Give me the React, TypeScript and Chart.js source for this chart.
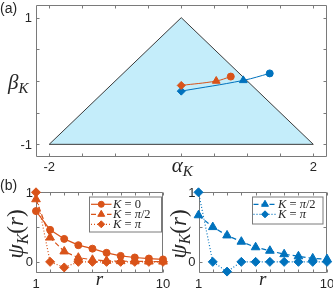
import React, { useEffect, useRef } from 'react';
import { Chart, registerables } from 'chart.js';
import { drawPoint } from 'chart.js/helpers';
Chart.register(...registerables);

// ---------- Panel (a) data ----------
const triAlpha = [-2, 0, 2, -2];
const triBeta = [-1, 1, -1, -1];
const orangeAlpha = [0, 0.53, 0.75];
const orangeBeta = [-0.07, 0.0, 0.07];
const blueAlpha = [0, 0.94, 1.34];
const blueBeta = [-0.16, 0.01, 0.12];
const pathMarkers = ['rectRot', 'triangle', 'circle'];
const aXTicks = [-2, -1.5, -1, -0.5, 0, 0.5, 1, 1.5, 2];
const aYTicks = [-1, -0.5, 0, 0.5, 1];
const aXLabelVals = [-2, 2];
const aXLabelText = ['-2', '2'];
const aYLabelVals = [-1, 1];
const aYLabelText = ['-1', '1'];

// ---------- Panel (b) data ----------
const rVals = [1, 2, 3, 4, 5, 6, 7, 8, 9, 10];
const psiK0 = [0.73, 0.46, 0.33, 0.24, 0.19, 0.13, 0.086, 0.063, 0.048, 0.035];
const psiKhalfL = [0.9, 0.35, 0.15, 0.06, 0.03, 0.015, 0.01, 0.008, 0.005, 0.004];
const psiKpiL = [1, 0, -0.08, 0, 0, 0, 0, 0, 0, 0];
const psiKhalfR = [0.67, 0.5, 0.38, 0.29, 0.21, 0.16, 0.11, 0.08, 0.05, 0.04];
const psiKpiR = [1, 0, -0.14, 0, 0, 0, 0, 0, 0, 0];
const bXTicks = [1, 2, 3, 4, 5, 6, 7, 8, 9, 10];
const bYTicks = [0, 0.5, 1];
const bXLabelVals = [1, 10];
const bXLabelText = ['1', '10'];
const bYLabelVals = [0, 1];
const bYLabelText = ['0', '1'];

const ORANGE = '#D95319';
const BLUE = '#0072BD';
const FILL = '#C4EDFA';
const TXT = '#262626';
const BOX = '#7a7a7a';
const SANS = '"Liberation Sans", Arial, sans-serif';
const SERIF = '"Liberation Serif", "Times New Roman", serif';

type Seg = { t: string; it?: boolean; sub?: boolean };

function mathText(ctx: CanvasRenderingContext2D, segs: Seg[], x: number, y: number, size: number, align: 'left' | 'center', rot = 0) {
  ctx.save();
  ctx.translate(x, y);
  if (rot) ctx.rotate(rot);
  ctx.fillStyle = TXT;
  ctx.textAlign = 'left';
  ctx.textBaseline = 'alphabetic';
  const subSize = Math.round(size * 0.7);
  const fontOf = (s: Seg) => `${s.it ? 'italic ' : ''}${s.sub ? subSize : size}px ${SERIF}`;
  const ws = segs.map((s) => { ctx.font = fontOf(s); return ctx.measureText(s.t).width; });
  const total = ws.reduce((a, b) => a + b, 0);
  let cx = align === 'center' ? -total / 2 : 0;
  segs.forEach((s, i) => {
    ctx.font = fontOf(s);
    ctx.fillText(s.t, cx, s.sub ? size * 0.2 : 0);
    cx += ws[i];
  });
  ctx.restore();
}

function plainText(ctx: CanvasRenderingContext2D, t: string, x: number, y: number, size: number, align: CanvasTextAlign, baseline: CanvasTextBaseline = 'alphabetic') {
  ctx.save();
  ctx.fillStyle = TXT;
  ctx.font = `${size}px ${SANS}`;
  ctx.textAlign = align;
  ctx.textBaseline = baseline;
  ctx.fillText(t, x, y);
  ctx.restore();
}

function drawAxesBox(chart: any, xt: number[], yt: number[], len = 3) {
  const { ctx, chartArea: a, scales } = chart;
  const L = Math.round(a.left) + 0.5, R = Math.round(a.right) - 0.5;
  const T = Math.round(a.top) + 0.5, B = Math.round(a.bottom) - 0.5;
  ctx.save();
  ctx.strokeStyle = BOX;
  ctx.lineWidth = 1;
  ctx.beginPath();
  ctx.rect(L, T, R - L, B - T);
  xt.forEach((v) => {
    const px = Math.round(scales.x.getPixelForValue(v)) + 0.5;
    ctx.moveTo(px, B); ctx.lineTo(px, B - len);
    ctx.moveTo(px, T); ctx.lineTo(px, T + len);
  });
  yt.forEach((v) => {
    const py = Math.round(scales.y.getPixelForValue(v)) + 0.5;
    ctx.moveTo(L, py); ctx.lineTo(L + len, py);
    ctx.moveTo(R, py); ctx.lineTo(R - len, py);
  });
  ctx.stroke();
  ctx.restore();
}

type LegRow = { color: string; dash: number[]; style: string; radius: number; label: Seg[] };

function drawLegend(ctx: CanvasRenderingContext2D, box: [number, number, number, number], rows: LegRow[], lx0: number, lx1: number, tx: number, y0: number, step: number) {
  ctx.save();
  ctx.fillStyle = '#ffffff';
  ctx.strokeStyle = BOX;
  ctx.lineWidth = 1;
  ctx.fillRect(box[0], box[1], box[2] - box[0], box[3] - box[1]);
  ctx.strokeRect(box[0] + 0.5, box[1] + 0.5, box[2] - box[0], box[3] - box[1]);
  rows.forEach((row, i) => {
    const y = y0 + i * step;
    ctx.strokeStyle = row.color;
    ctx.lineWidth = 1.2;
    ctx.setLineDash(row.dash);
    ctx.beginPath();
    ctx.moveTo(lx0, y); ctx.lineTo(lx1, y);
    ctx.stroke();
    ctx.setLineDash([]);
    ctx.fillStyle = row.color;
    ctx.strokeStyle = row.color;
    ctx.lineWidth = 1;
    drawPoint(ctx, { pointStyle: row.style as any, radius: row.radius, rotation: 0, borderWidth: 1 } as any, (lx0 + lx1) / 2, y);
    mathText(ctx, row.label, tx, y + 4, 12.5, 'left');
  });
  ctx.restore();
}

function pts(xs: number[], ys: number[]) {
  return xs.map((x, i) => ({ x, y: ys[i] }));
}

// ---------- chart configs ----------
function configA(): any {
  return {
    type: 'scatter',
    data: {
      datasets: [
        {
          data: pts(orangeAlpha, orangeBeta), showLine: true, borderColor: ORANGE, backgroundColor: ORANGE,
          borderWidth: 1, tension: 0.4, pointStyle: pathMarkers, pointRadius: [4, 4.5, 3.5],
          pointBorderWidth: 1, pointBorderColor: ORANGE, pointBackgroundColor: ORANGE, order: 0,
        },
        {
          data: pts(blueAlpha, blueBeta), showLine: true, borderColor: BLUE, backgroundColor: BLUE,
          borderWidth: 1, tension: 0.4, pointStyle: pathMarkers, pointRadius: [4, 4.5, 3.5],
          pointBorderWidth: 1, pointBorderColor: BLUE, pointBackgroundColor: BLUE, order: 1,
        },
        {
          data: pts(triAlpha, triBeta), showLine: true, fill: 'shape', backgroundColor: FILL,
          borderColor: '#3a3a3a', borderWidth: 1, pointRadius: 0, tension: 0, order: 5,
        },
      ],
    },
    options: {
      responsive: false, animation: false, devicePixelRatio: 1, events: [],
      layout: { padding: { left: 36, right: 6.5, top: 1, bottom: 133 } },
      scales: {
        x: { type: 'linear', min: -2.2, max: 2.2, display: false },
        y: { type: 'linear', min: -1.2, max: 1.2, display: false },
      },
      plugins: { legend: { display: false }, tooltip: { enabled: false } },
    },
    plugins: [{
      id: 'decorA',
      beforeDatasetsDraw(chart: any) { drawAxesBox(chart, aXTicks, aYTicks); },
      afterDraw(chart: any) {
        const { ctx, chartArea: a, scales } = chart;
        aYLabelVals.forEach((v, i) => plainText(ctx, aYLabelText[i], a.left - 4, scales.y.getPixelForValue(v) + 1, 13, 'right', 'middle'));
        aXLabelVals.forEach((v, i) => plainText(ctx, aXLabelText[i], scales.x.getPixelForValue(v), a.bottom + 14, 13, 'center'));
        mathText(ctx, [{ t: 'α', it: true }, { t: 'K', it: true, sub: true }], scales.x.getPixelForValue(0) + 1, a.bottom + 14.5, 21, 'center');
        mathText(ctx, [{ t: 'β', it: true }, { t: 'K', it: true, sub: true }], 8, scales.y.getPixelForValue(0) + 8, 21, 'left');
        plainText(ctx, '(a)', 0, 12.5, 14, 'left');
      },
    }],
  };
}

function configB(right: boolean): any {
  const color = right ? BLUE : ORANGE;
  const datasets: any[] = [];
  const common = { showLine: true, clip: false, borderColor: color, backgroundColor: color, pointBackgroundColor: color, pointBorderColor: color, pointBorderWidth: 1, tension: 0 };
  if (!right) {
    datasets.push({ ...common, data: pts(rVals, psiK0), borderWidth: 1.2, pointStyle: 'circle', pointRadius: 3.5 });
    datasets.push({ ...common, data: pts(rVals, psiKhalfL), borderWidth: 1.2, borderDash: [5, 3], pointStyle: 'triangle', pointRadius: 5 });
    datasets.push({ ...common, data: pts(rVals, psiKpiL), borderWidth: 1.2, borderDash: [1, 2], pointStyle: 'rectRot', pointRadius: 4.5 });
  } else {
    datasets.push({ ...common, data: pts(rVals, psiKhalfR), borderWidth: 1.2, borderDash: [5, 3], pointStyle: 'triangle', pointRadius: 5 });
    datasets.push({ ...common, data: pts(rVals, psiKpiR), borderWidth: 1.2, borderDash: [1, 2], pointStyle: 'rectRot', pointRadius: 4.5 });
  }
  const left = right ? 198.5 : 36;
  const rightPad = right ? 5.5 : 170;
  const rows: LegRow[] = right
    ? [
        { color, dash: [5, 3], style: 'triangle', radius: 4, label: [{ t: 'K', it: true }, { t: ' = ' }, { t: 'π', it: true }, { t: '/2' }] },
        { color, dash: [1, 2], style: 'rectRot', radius: 3.5, label: [{ t: 'K', it: true }, { t: ' = ' }, { t: 'π', it: true }] },
      ]
    : [
        { color, dash: [], style: 'circle', radius: 3, label: [{ t: 'K', it: true }, { t: ' = 0' }] },
        { color, dash: [5, 3], style: 'triangle', radius: 4, label: [{ t: 'K', it: true }, { t: ' = ' }, { t: 'π', it: true }, { t: '/2' }] },
        { color, dash: [1, 2], style: 'rectRot', radius: 3.5, label: [{ t: 'K', it: true }, { t: ' = ' }, { t: 'π', it: true }] },
      ];
  return {
    type: 'scatter',
    data: { datasets },
    options: {
      responsive: false, animation: false, devicePixelRatio: 1, events: [],
      layout: { padding: { left, right: rightPad, top: 192.3, bottom: 17 } },
      scales: {
        x: { type: 'linear', min: 1, max: 10, display: false },
        y: { type: 'linear', min: -0.16, max: 1, display: false },
      },
      plugins: { legend: { display: false }, tooltip: { enabled: false } },
    },
    plugins: [{
      id: right ? 'decorBR' : 'decorBL',
      beforeDatasetsDraw(chart: any) { drawAxesBox(chart, bXTicks, bYTicks); },
      afterDraw(chart: any) {
        const { ctx, chartArea: a, scales } = chart;
        bYLabelVals.forEach((v, i) => plainText(ctx, bYLabelText[i], a.left - 3, scales.y.getPixelForValue(v) + 1, 13, 'right', 'middle'));
        bXLabelVals.forEach((v, i) => plainText(ctx, bXLabelText[i], scales.x.getPixelForValue(v), a.bottom + 15, 13, 'center'));
        mathText(ctx, [{ t: 'r', it: true }], (a.left + a.right) / 2, a.bottom + 12, 19, 'center');
        mathText(ctx, [{ t: 'ψ', it: true }, { t: 'K', it: true, sub: true }, { t: '(' }, { t: 'r', it: true }, { t: ')' }], a.left - 13, 234, 23, 'center', -Math.PI / 2);
        if (right) {
          drawLegend(ctx, [252, 196.5, 322.5, 223.5], rows, 253.5, 276.5, 278, 204.3, 10);
        } else {
          plainText(ctx, '(b)', 0, 189.5, 14, 'left');
          drawLegend(ctx, [89, 196.5, 161, 231.5], rows, 91, 111.5, 113, 204.3, 10);
        }
      },
    }],
  };
}

function ChartCanvas({ make }: { make: () => any }) {
  const ref = useRef<HTMLCanvasElement>(null);
  useEffect(() => {
    const chart = new Chart(ref.current as HTMLCanvasElement, make());
    return () => chart.destroy();
  }, []);
  return (
    <canvas ref={ref} width={333} height={290}
      style={{ position: 'absolute', left: 0, top: 0, width: 333, height: 290 }} />
  );
}

export default function App() {
  return (
    <div style={{ position: 'fixed', left: 0, top: 0, width: 333, height: 290, background: '#ffffff', overflow: 'hidden' }}>
      <ChartCanvas make={configA} />
      <ChartCanvas make={() => configB(false)} />
      <ChartCanvas make={() => configB(true)} />
    </div>
  );
}
